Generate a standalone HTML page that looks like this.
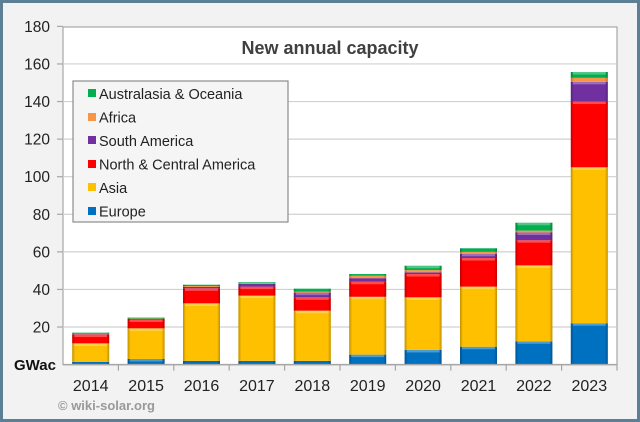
<!DOCTYPE html>
<html><head><meta charset="utf-8"><style>
html,body{margin:0;padding:0;background:#fff}
svg{display:block}
text{font-family:"Liberation Sans",Arial,sans-serif}
</style></head><body>
<svg id="s" width="640" height="422" xmlns="http://www.w3.org/2000/svg">
<defs>
<linearGradient id="hl" x1="0" y1="0" x2="1" y2="0">
<stop offset="0" stop-color="#000" stop-opacity="0.25"/>
<stop offset="0.08" stop-color="#000" stop-opacity="0"/>
<stop offset="0.92" stop-color="#000" stop-opacity="0"/>
<stop offset="1" stop-color="#000" stop-opacity="0.25"/>
</linearGradient>
</defs>
<rect x="0" y="0" width="640" height="422" fill="#5b7f95"/>
<rect x="3" y="3" width="634" height="416" fill="#f2f2f2"/>
<rect x="63" y="27" width="554" height="337.6" fill="#fff" stroke="#a6a6a6" stroke-width="1.2"/>
<g id="grid"></g>
<text x="330" y="54" font-size="18" font-weight="bold" fill="#404040" text-anchor="middle">New annual capacity</text>
<g id="bars"></g>
<rect x="73" y="81" width="215" height="141" fill="#f5f5f5" stroke="#8c8c8c" stroke-width="1.2"/>
<g font-size="14.5" fill="#222">
<rect x="88" y="89" width="8" height="8" fill="#00b050"/><text x="99" y="99">Australasia &amp; Oceania</text>
<rect x="88" y="113" width="8" height="8" fill="#f79646"/><text x="99" y="122.5">Africa</text>
<rect x="88" y="136" width="8" height="8" fill="#7030a0"/><text x="99" y="146">South America</text>
<rect x="88" y="160" width="8" height="8" fill="#ff0000"/><text x="99" y="169.5">North &amp; Central America</text>
<rect x="88" y="183" width="8" height="8" fill="#ffc000"/><text x="99" y="193">Asia</text>
<rect x="88" y="207" width="8" height="8" fill="#0070c0"/><text x="99" y="216.5">Europe</text>
</g>
<text x="14" y="370" font-size="15" font-weight="bold" fill="#111">GWac</text>
<text x="58" y="410" font-size="13" font-weight="bold" fill="#999">© wiki-solar.org</text>
</svg>
<script>
const NS="http://www.w3.org/2000/svg";
const s=document.getElementById('s'),g=document.getElementById('grid'),b=document.getElementById('bars');
function el(p,t,a,txt){const e=document.createElementNS(NS,t);for(const k in a)e.setAttribute(k,a[k]);if(txt)e.textContent=txt;p.appendChild(e);return e;}
const y0=364.6,k=1.879;const Y=v=>y0-v*k;
for(let v=20;v<=180;v+=20){
 if(v<180)el(g,'line',{x1:63,x2:617,y1:Y(v),y2:Y(v),stroke:'#d0d0d0','stroke-width':1.2});
 el(g,'line',{x1:57,x2:63,y1:Y(v),y2:Y(v),stroke:'#a6a6a6','stroke-width':1.2});
 el(g,'text',{x:50,y:Y(v)+5.5,'font-size':15.5,fill:'#222','text-anchor':'end'},String(v));
}
const years=[2014,2015,2016,2017,2018,2019,2020,2021,2022,2023];
const cols=['#0070c0','#ffc000','#ff0000','#7030a0','#f79646','#00b050'];
const cum=[
[1.5,11.3,16,16.2,16.4,17],
[3,19.3,24,24.3,24.5,25],
[2,32.6,40.6,41.3,41.8,42.5],
[2,36.7,41.5,43,43.3,43.8],
[2,28.7,35.8,38.3,38.8,40.4],
[5.3,36.1,44.1,46,47.3,48.2],
[7.8,35.8,48.2,49.1,50.3,52.6],
[9.5,41.5,56.7,59,60,61.9],
[12.4,52.8,66.2,70.3,71.3,75.5],
[22,105,140,150.5,152.6,155.7]];
const sw=55.4;
years.forEach((yr,i)=>{
 const cx=63+sw*(i+0.5),x=cx-18.5;
 let prev=0;
 cum[i].forEach((c,j)=>{
  const h=(c-prev)*k;
  if(h>0.3){
   el(b,'rect',{x:x,y:Y(c),width:37,height:h,fill:cols[j]});
   el(b,'rect',{x:x,y:Y(c),width:37,height:h,fill:'url(#hl)'});
   if(h>4)el(b,'rect',{x:x+2,y:Y(c),width:33,height:2.5,fill:'#fff','fill-opacity':0.3});
  }
  prev=c;
 });
 el(b,'text',{x:cx,y:391,'font-size':16,fill:'#222','text-anchor':'middle'},String(yr));
 if(i>0)el(b,'line',{x1:63+sw*i,x2:63+sw*i,y1:y0,y2:y0+6,stroke:'#a6a6a6','stroke-width':1.2});
});
el(b,'line',{x1:617,x2:617,y1:y0,y2:y0+6,stroke:'#a6a6a6','stroke-width':1.2});
el(b,'line',{x1:63,x2:617,y1:y0,y2:y0,stroke:'#a6a6a6','stroke-width':1.5});
</script>
</body></html>
